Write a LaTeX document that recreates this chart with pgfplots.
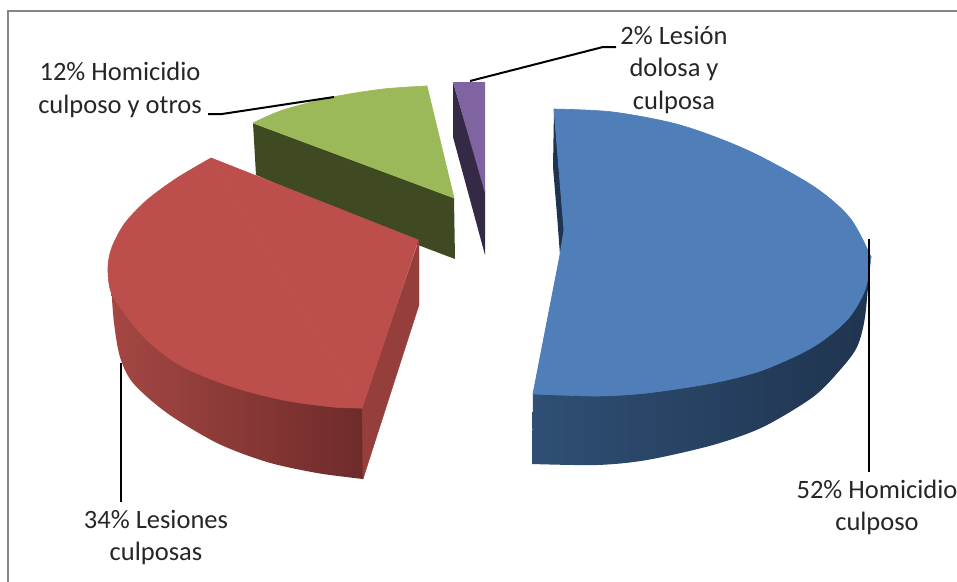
\documentclass[border=0pt]{standalone}
\usepackage{pgfplots}
\pgfplotsset{compat=1.18}
\usepackage{fontspec}
\setmainfont{Carlito}
\definecolor{btop}{HTML}{4F7EB9}
\definecolor{bsideL}{HTML}{2F4F74}
\definecolor{bsideR}{HTML}{1F344F}
\definecolor{rtop}{HTML}{BC4F4C}
\definecolor{rsideL}{HTML}{A54743}
\definecolor{rsideR}{HTML}{6E2B2A}
\definecolor{rcut}{HTML}{963E3B}
\definecolor{gtop}{HTML}{9BB958}
\definecolor{gside}{HTML}{3F4A22}
\definecolor{ptop}{HTML}{8063A1}
\definecolor{pside}{HTML}{352A45}
\definecolor{framec}{HTML}{868686}
\definecolor{txt}{HTML}{262626}
\tikzset{lbl/.style={font=\fontsize{26.5}{32.5}\selectfont, text=txt, align=center, inner sep=0pt, anchor=center}}
\begin{document}
\begin{tikzpicture}
\path[use as bounding box, clip] (0,0) rectangle (957pt,581pt);
\begin{axis}[
  at={(0,0)}, anchor=south west,
  scale only axis, width=957pt, height=581pt,
  xmin=0, xmax=957, ymin=0, ymax=581, y dir=reverse,
  axis lines=none, no marks, clip=false,
]
% frame
\addplot[framec, line width=2.4pt] coordinates {(8,590)(8,11)(965,11)};
% green
\addplot[draw=none, fill=gside] coordinates {(253,123)(256,175)(418,245)(455,259)(454,198)};
\addplot[smooth, draw=gtop, line width=0.6pt, fill=gtop] coordinates {(253,123)(283,110)(333,97)(383,89)(427,86)};
\addplot[draw=gtop, line width=0.6pt, fill=gtop] coordinates {(253,123)(427,86)(454,198)(253,123)};
% red
\addplot[smooth, draw=none, left color=rsideL, right color=rsideR] coordinates {
 (111,285)(114,323)(120,357)(133,383)(167,413)(217,443)(267,462)(317,473)(363,479)};
\addplot[draw=none, left color=rsideL, right color=rsideR] coordinates {(111,285)(363,400)(363,479)(250,430)};
\addplot[draw=rcut, line width=0.4pt, fill=rcut] coordinates {(362,408)(363,479)(419,305)(419,240)(362,408)};
\addplot[smooth, draw=rtop, line width=0.6pt, fill=rtop] coordinates {(211,158)(177,178)(147,200)(125,223)(112,247)(108,267)(111,292)(127,317)(150,343)(183,367)(233,387)(283,400)(333,407)(362,408)};
\addplot[draw=rtop, line width=0.8pt, fill=rtop] coordinates {(211,158)(418,240)(362,408)(211,158)};
% purple
\addplot[draw=none, fill=pside] coordinates {(453,82)(453,137)(485,255)(485,190)};
\addplot[draw=none, fill=ptop] coordinates {(453,82)(485,82)(485,193)};
% blue
\addplot[draw=none, fill=bsideR] coordinates {(554,109)(553,167)(557,215)(560,255)(564,230)(560,170)};
\addplot[smooth, draw=none, left color=bsideL, middle color=bsideR, right color=bsideR] coordinates {
 (532,464)(597,465)(647,460)(713,445)(763,427)(813,397)(840,370)(857,347)(865,317)(870,262)};
\addplot[draw=none, left color=bsideL, middle color=bsideR, right color=bsideR] coordinates {(532,464)(533,394)(870,262)(700,420)};
\addplot[smooth, draw=btop, line width=0.6pt, fill=btop] coordinates {(554,109)(613,112)(680,125)(747,150)(813,186)(850,218)(871,257)};
\addplot[smooth, draw=btop, line width=0.6pt, fill=btop] coordinates {(871,257)(865,290)(847,320)(813,347)(763,370)(713,383)(647,393)(597,396)(533,394)};
\addplot[draw=btop, line width=0.8pt, fill=btop] coordinates {(554,109)(871,257)(533,394)(560,255)(564,230)(554,109)};
% leaders
\addplot[black, line width=2pt] coordinates {(868.5,239)(868.5,472)};
\addplot[black, line width=2pt] coordinates {(121,363)(121,502)};
\addplot[black, line width=2pt] coordinates {(208,114)(222,114)(334,97)};
\addplot[black, line width=2pt] coordinates {(470,81)(603,47)(616,47)};
% labels
\node[lbl] at (axis cs:120,90) {12\% Homicidio\\culposo y otros};
\node[lbl] at (axis cs:674,70) {2\% Lesión\\dolosa y\\culposa};
\node[lbl] at (axis cs:156,537.5) {34\% Lesiones\\culposas};
\node[lbl] at (axis cs:877,507.5) {52\% Homicidio\\culposo};
\end{axis}
\end{tikzpicture}
\end{document}
